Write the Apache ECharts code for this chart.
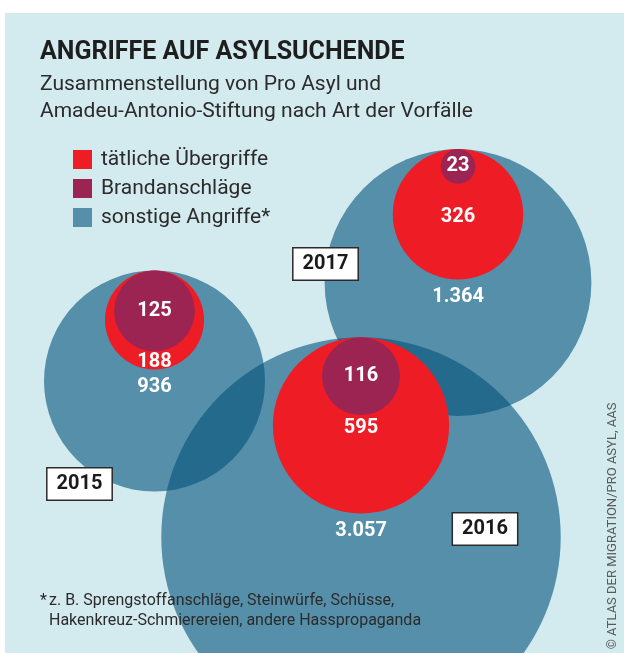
<!DOCTYPE html>
<html lang="de">
<head>
<meta charset="utf-8">
<title>Angriffe auf Asylsuchende</title>
<script src="https://cdn.jsdelivr.net/npm/echarts@6/dist/echarts.min.js"></script>
<style>
  html, body { margin: 0; padding: 0; background: #ffffff; }
  #chart { width: 624px; height: 653px; }
</style>
</head>
<body>
<div id="chart"></div>
<script>
// Recorded attacks on asylum seekers per year (Pro Asyl / Amadeu-Antonio-Stiftung)
const years = ['2015', '2016', '2017'];
const physicalAttacks = [188, 595, 326];   // tätliche Übergriffe
const arsonAttacks = [125, 116, 23];       // Brandanschläge
const otherAttacks = [936, 3057, 1364];    // sonstige Angriffe

const seriesNames = ['tätliche Übergriffe', 'Brandanschläge', 'sonstige Angriffe*'];

// Layout: where each year's bubble group sits (pixel space of the grid)
const layout = {
  centerX: [154.5, 361, 458],
  centerY: [381, 537, 282.5],
  tagOffset: [[-75, 103], [124, -8], [-132.5, -18.5]],
  radiusPerSqrt: 3.612
};

const FONT = 'Roboto, "Noto Sans", "DejaVu Sans", sans-serif';
const K = layout.radiusPerSqrt;
const radius = v => K * Math.sqrt(v);
const fmt = v => String(v).replace(/\B(?=(\d{3})+(?!\d))/g, '.');

const blueData = [], redData = [], purpleData = [], tagData = [];
years.forEach((yr, i) => {
  const cx = layout.centerX[i];
  const cy = layout.centerY[i];
  const R = radius(otherAttacks[i]);
  const rRed = radius(physicalAttacks[i]);
  const rPur = radius(arsonAttacks[i]);
  const top = cy - R;
  const redCy = top + rRed;
  const purCy = top + rPur;
  const redLabelY = Math.max(redCy + 3, top + 2 * rPur + 11);
  blueData.push({
    value: [cx, cy, otherAttacks[i]],
    label: { offset: [0, top + 2 * rRed + 17 - cy] }
  });
  redData.push({
    value: [cx, redCy, physicalAttacks[i]],
    label: { offset: [0, redLabelY - redCy] }
  });
  purpleData.push({ value: [cx, purCy, arsonAttacks[i]] });
  tagData.push({
    value: [cx + layout.tagOffset[i][0], cy + layout.tagOffset[i][1], yr]
  });
});

const valueLabel = {
  show: true,
  position: 'inside',
  color: '#ffffff',
  fontFamily: FONT,
  fontWeight: 'bold',
  fontSize: 20,
  formatter: p => fmt(p.value[2])
};

const chart = echarts.init(document.getElementById('chart'), null, { renderer: 'canvas' });

chart.setOption({
  animation: false,
  backgroundColor: '#ffffff',
  grid: { left: 0, right: 0, top: 0, bottom: 0, containLabel: false },
  xAxis: { type: 'value', min: 0, max: 624, show: false },
  yAxis: { type: 'value', min: 0, max: 653, inverse: true, show: false },
  legend: {
    orient: 'vertical',
    left: 73,
    top: 149,
    padding: 0,
    itemWidth: 19,
    itemHeight: 19,
    itemGap: 8,
    icon: 'rect',
    selectedMode: false,
    data: [seriesNames[0], seriesNames[1], seriesNames[2]],
    textStyle: {
      fontFamily: FONT,
      fontSize: 21,
      color: '#2b2b2b',
      lineHeight: 19,
      padding: [0, 0, 0, 4]
    }
  },
  graphic: [
    {
      type: 'rect', z: -100, silent: true,
      shape: { x: 5, y: 13, width: 619, height: 640 },
      style: { fill: '#d3eaee' }
    },
    {
      type: 'text', z: 100, silent: true,
      style: {
        x: 40, y: 53, text: 'ANGRIFFE AUF ASYLSUCHENDE',
        font: 'bold 25px ' + FONT, fill: '#1e1e1e', verticalAlign: 'middle'
      }
    },
    {
      type: 'text', z: 100, silent: true,
      style: {
        x: 40, y: 85, text: 'Zusammenstellung von Pro Asyl und',
        font: '21px ' + FONT, fill: '#2b2b2b', verticalAlign: 'middle'
      }
    },
    {
      type: 'text', z: 100, silent: true,
      style: {
        x: 40, y: 112, text: 'Amadeu-Antonio-Stiftung nach Art der Vorfälle',
        font: '21px ' + FONT, fill: '#2b2b2b', verticalAlign: 'middle'
      }
    },
    {
      type: 'text', z: 100, silent: true,
      style: {
        x: 40, y: 601, text: '*',
        font: '16px ' + FONT, fill: '#2b2b2b', verticalAlign: 'middle'
      }
    },
    {
      type: 'text', z: 100, silent: true,
      style: {
        x: 49, y: 601, text: 'z. B. Sprengstoffanschläge, Steinwürfe, Schüsse,',
        font: '16px ' + FONT, fill: '#2b2b2b', verticalAlign: 'middle'
      }
    },
    {
      type: 'text', z: 100, silent: true,
      style: {
        x: 49, y: 621, text: 'Hakenkreuz-Schmierereien, andere Hasspropaganda',
        font: '16px ' + FONT, fill: '#2b2b2b', verticalAlign: 'middle'
      }
    },
    {
      type: 'text', z: 100, silent: true,
      x: 613, y: 526, rotation: Math.PI / 2,
      style: {
        x: 0, y: 0, text: '© ATLAS DER MIGRATION/PRO ASYL, AAS',
        font: '13px ' + FONT, fill: '#5a5a5a',
        align: 'center', verticalAlign: 'middle'
      }
    }
  ],
  series: [
    {
      name: seriesNames[2],
      type: 'scatter',
      z: 2,
      silent: true,
      clip: false,
      symbol: 'circle',
      symbolSize: v => 2 * radius(v[2]),
      itemStyle: { color: 'rgba(1, 82, 123, 0.6)', opacity: 1 },
      label: valueLabel,
      emphasis: { disabled: true },
      data: blueData
    },
    {
      name: seriesNames[0],
      type: 'scatter',
      z: 3,
      silent: true,
      clip: false,
      symbol: 'circle',
      symbolSize: v => 2 * radius(v[2]),
      itemStyle: { color: '#ee1c25', opacity: 1 },
      label: valueLabel,
      emphasis: { disabled: true },
      data: redData
    },
    {
      name: seriesNames[1],
      type: 'scatter',
      z: 4,
      silent: true,
      clip: false,
      symbol: 'circle',
      symbolSize: v => 2 * radius(v[2]),
      itemStyle: { color: '#9c2452', opacity: 1 },
      label: valueLabel,
      emphasis: { disabled: true },
      data: purpleData
    },
    {
      name: 'Jahr',
      type: 'scatter',
      z: 5,
      silent: true,
      clip: false,
      symbol: 'circle',
      symbolSize: 2,
      itemStyle: { color: 'rgba(0,0,0,0)', opacity: 1 },
      label: {
        show: true,
        position: 'inside',
        formatter: p => p.value[2],
        fontFamily: FONT,
        fontWeight: 'bold',
        fontSize: 20,
        lineHeight: 22,
        color: '#1a1a1a',
        backgroundColor: '#ffffff',
        borderColor: '#2a2a2a',
        borderWidth: 1.5,
        padding: [5, 9, 4, 9]
      },
      emphasis: { disabled: true },
      data: tagData
    }
  ]
});
</script>
</body>
</html>
